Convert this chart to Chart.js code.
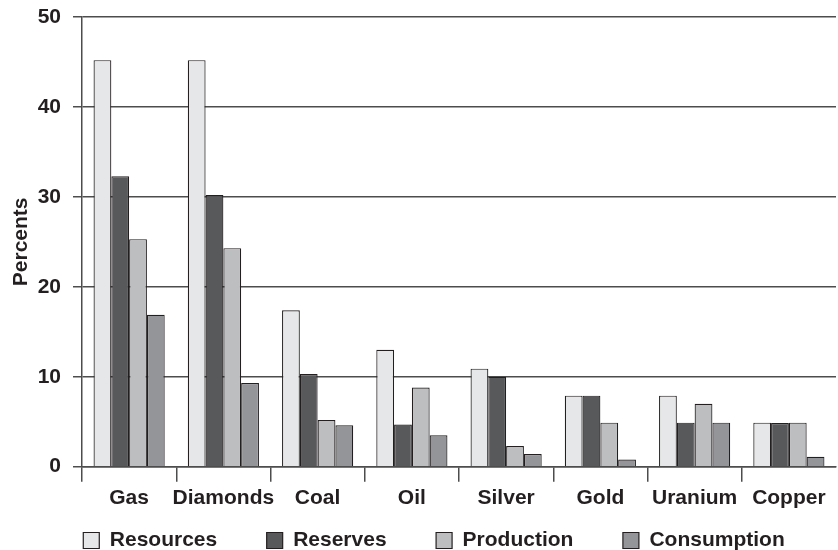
<!DOCTYPE html>
<html>
<head>
<meta charset="utf-8">
<script src="https://cdn.jsdelivr.net/npm/chart.js@4"></script>
<style>
  html, body { margin: 0; padding: 0; background: #fff; }
  #wrap { width: 838px; height: 550px; }
</style>
</head>
<body>
<div id="wrap"><canvas id="barchart" width="838" height="550"></canvas></div>
<script>
const categories = ['Gas', 'Diamonds', 'Coal', 'Oil', 'Silver', 'Gold', 'Uranium', 'Copper'];
const resources = [45.2, 45.2, 17.4, 13.0, 10.9, 7.9, 7.9, 4.9];
const reserves = [32.3, 30.2, 10.3, 4.7, 10.0, 7.9, 4.9, 4.85];
const production = [25.3, 24.3, 5.2, 8.8, 2.3, 4.9, 7.0, 4.9];
const consumption = [16.9, 9.3, 4.6, 3.5, 1.4, 0.8, 4.9, 1.1];
const yTicks = [0, 10, 20, 30, 40, 50];

Chart.defaults.font.family = "'Liberation Sans', Arial, Helvetica, sans-serif";
Chart.defaults.color = '#231f20';

const edge = '#231f20';
const gridCol = '#4d4d4d';
const bold21 = { size: 21, weight: 'bold' };

//bar chart
const ctx = document.getElementById('barchart');
const myChart = new Chart(ctx, {
    type: 'bar',
    data: {
        labels: categories,
        datasets: [
            { label: 'Resources', data: resources, backgroundColor: '#e6e7e8' },
            { label: 'Reserves', data: reserves, backgroundColor: '#58595b' },
            { label: 'Production', data: production, backgroundColor: '#bcbec0' },
            { label: 'Consumption', data: consumption, backgroundColor: '#939598' }
        ].map(d => Object.assign(d, {
            borderColor: edge,
            borderWidth: 1.2,
            categoryPercentage: 0.755,
            barPercentage: 1.0
        }))
    },
    options: {
        responsive: false,
        animation: false,
        layout: { padding: { left: 32, right: 2, top: 17, bottom: 0 } },
        plugins: {
            tooltip: { enabled: false },
            legend: {
                position: 'bottom',
                align: 'center',
                maxHeight: 69.5,
                labels: {
                    boxWidth: 16,
                    boxHeight: 16,
                    padding: 49.5,
                    color: edge,
                    font: bold21
                }
            }
        },
        scales: {
            x: {
                // keep the axis box thin, labels are drawn below it (mirror = no clipping)
                afterFit: s => { s.height = 13.8; },
                border: { display: true, color: gridCol, width: 1.5 },
                grid: {
                    offset: true,
                    drawOnChartArea: false,
                    drawTicks: true,
                    tickLength: 15,
                    lineWidth: 1.5,
                    color: c => c.type === 'tick' ? gridCol : 'transparent'
                },
                ticks: {
                    mirror: true,
                    padding: -44,
                    maxRotation: 0,
                    minRotation: 0,
                    autoSkip: false,
                    color: edge,
                    font: bold21
                }
            },
            y: {
                min: 0,
                max: 50,
                afterFit: s => { s.width = 50; s.paddingTop = 0; s.paddingBottom = 0; },
                afterBuildTicks: s => { s.ticks = yTicks.map(v => ({ value: v })); },
                border: { display: true, color: gridCol, width: 1.5 },
                grid: {
                    color: gridCol,
                    lineWidth: 1.5,
                    tickLength: 9
                },
                ticks: {
                    padding: 12,
                    color: edge,
                    font: bold21
                },
                title: {
                    display: true,
                    text: 'Percents',
                    color: edge,
                    padding: { top: -23.6, bottom: 0 },
                    font: bold21
                }
            }
        }
    }
});
</script>
</body>
</html>
